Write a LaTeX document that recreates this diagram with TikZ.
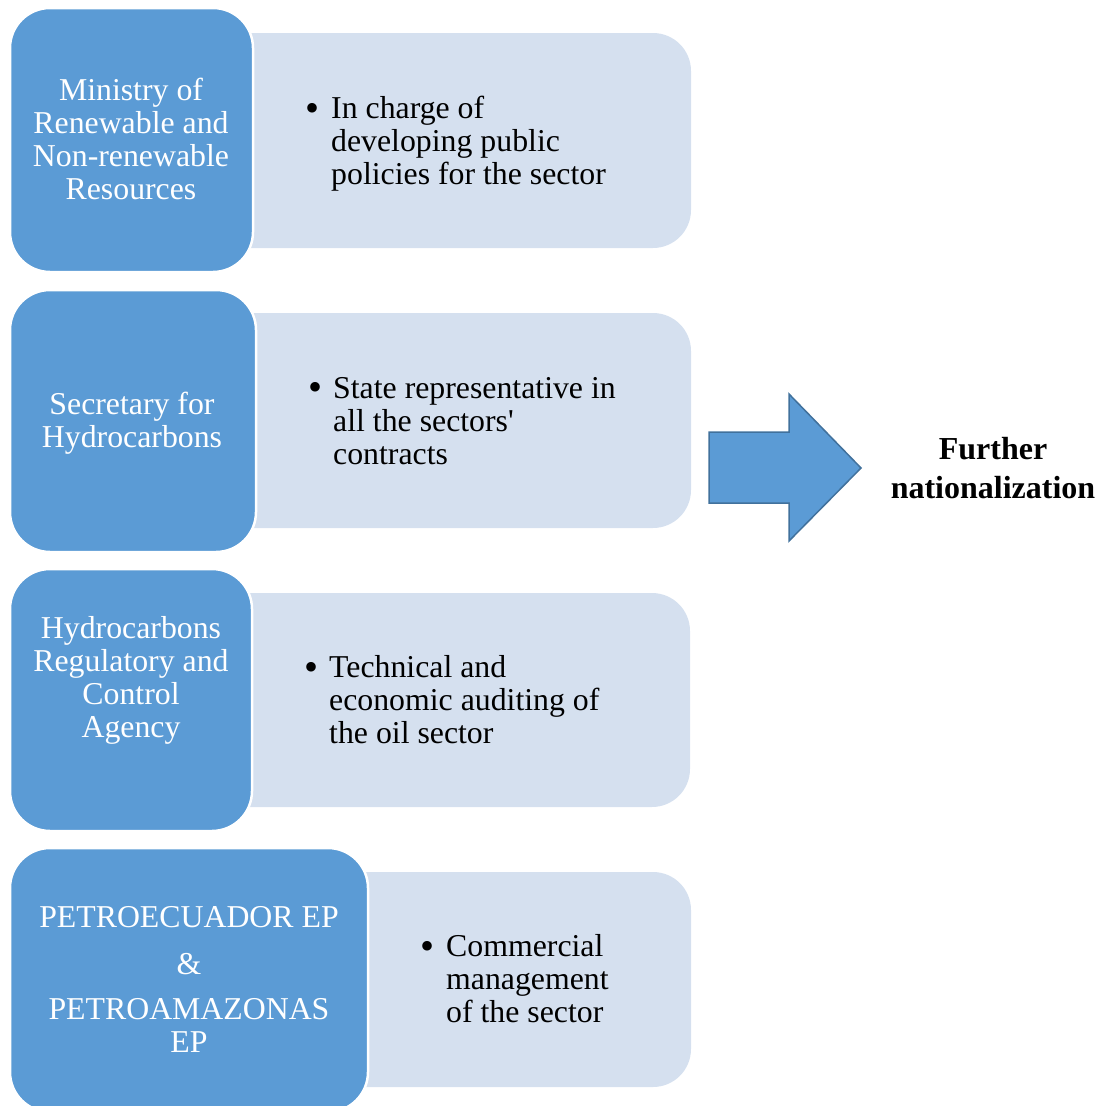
\documentclass[tikz,border=0pt]{standalone}
\usepackage{fontspec}
\setmainfont{Liberation Serif}
\definecolor{accent}{HTML}{5B9BD5}
\definecolor{accentdark}{HTML}{41719C}
\definecolor{lightbox}{HTML}{D5E0EF}
\begin{document}
\begin{tikzpicture}[x=1pt,y=-1pt,
  bluebox/.style={fill=accent,draw=white,line width=2.5pt,rounded corners=40pt},
  lightpanel/.style={fill=lightbox,rounded corners=38pt},
  boxtext/.style={text=white,align=center,inner sep=0pt,font=\fontsize{31.8}{33}\selectfont},
  bullettext/.style={text=black,align=left,anchor=west,inner sep=0pt,font=\fontsize{31.8}{33}\selectfont},
  bulletmark/.style={text=black,inner sep=0pt,anchor=base,font=\fontsize{40}{33}\selectfont},
  bigarrow/.style={fill=accent,draw=accentdark,line width=1.5pt,line join=miter}]
\useasboundingbox (0,0) rectangle (1099,1106);

% light panels (drawn first, partly hidden)
\path[lightpanel] (200,33) rectangle (691,248);
\path[lightpanel] (200,313) rectangle (691,528);
\path[lightpanel] (200,593) rectangle (690,807);
\path[lightpanel] (310,872) rectangle (691,1087);

% blue boxes
\path[bluebox] (10,8) rectangle (253,272);
\path[bluebox] (10,290) rectangle (256,552);
\path[bluebox] (10,569) rectangle (252,831);
\path[bluebox] (10,848) rectangle (368,1112);

% blue box texts
\node[boxtext] (t1) at (131,139) {Ministry of\\Renewable and\\Non-renewable\\Resources};
\node[boxtext] (t2) at (132,423) {Secretary for\\Hydrocarbons};
\node[boxtext] (t3) at (131,680) {Hydrocarbons\\Regulatory and\\Control\\Agency};
\node[boxtext] (t4) at (189,979) {PETROECUADOR EP\\[14pt]\&\\[12pt]PETROAMAZONAS\\EP};

% bullets
\node[bulletmark] (b1) at (312,121) {\textbullet};
\node[bullettext] (d1) at (331,144) {In charge of\\developing public\\policies for the sector};
\node[bulletmark] (b2) at (315,400) {\textbullet};
\node[bullettext] (d2) at (333,421) {State representative in\\all the sectors\textquotesingle\\contracts};
\node[bulletmark] (b3) at (311,680) {\textbullet};
\node[bullettext] (d3) at (329,700) {Technical and\\economic auditing of\\the oil sector};
\node[bulletmark] (b4) at (427,959) {\textbullet};
\node[bullettext] (d4) at (446,979) {Commercial\\management\\of the sector};

% arrow
\draw[bigarrow] (709,432) -- (789,432) -- (789,394) -- (861,468) -- (789,541) -- (789,503) -- (709,503) -- cycle;
\node[align=center,inner sep=0pt,font=\fontsize{32}{39}\selectfont\bfseries] (fn) at (993,468) {Further\\nationalization};
\end{tikzpicture}
\end{document}
